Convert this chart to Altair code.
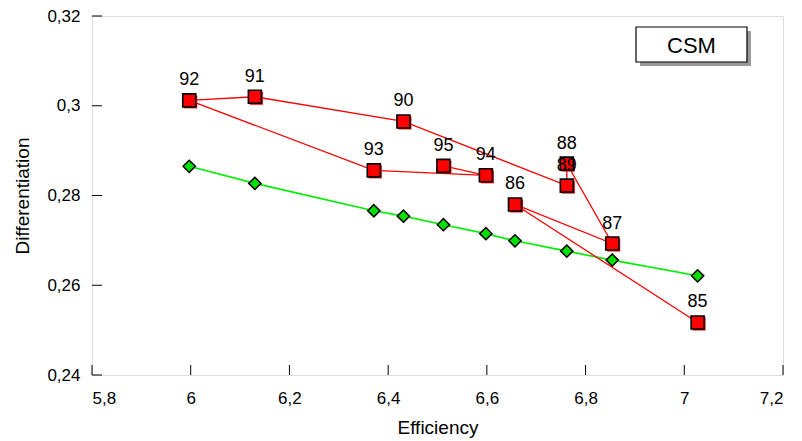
import altair as alt
import pandas as pd

# Data
years = ["85", "86", "87", "88", "89", "90", "91", "92", "93", "94", "95"]
eff = [7.027, 6.657, 6.854, 6.762, 6.762, 6.431, 6.130, 5.997, 6.371, 6.598, 6.512]
diff = [0.2517, 0.2780, 0.2693, 0.2871, 0.2822, 0.2965, 0.3020, 0.3012, 0.2856, 0.2845, 0.2866]

fit_x = [5.997, 6.130, 6.371, 6.431, 6.512, 6.598, 6.657, 6.762, 6.854, 7.027]
fit_y = [0.2865, 0.2827, 0.2766, 0.2754, 0.2735, 0.2715, 0.2699, 0.2676, 0.2656, 0.2621]

x_ticks = [5.8, 6.0, 6.2, 6.4, 6.6, 6.8, 7.0, 7.2]
y_ticks = [0.24, 0.26, 0.28, 0.30, 0.32]

legend_label = ["CSM"]

W, H = 691, 359
FONT = "Liberation Sans"

red = pd.DataFrame({"year": years, "eff": eff, "diff": diff, "ord": list(range(len(years)))})
fit = pd.DataFrame({"eff": fit_x, "diff": fit_y})
xt = pd.DataFrame({"v": x_ticks})
yt = pd.DataFrame({"v": y_ticks})
lg = pd.DataFrame({"t": legend_label})

xs = alt.Scale(domain=[5.8, 7.2], nice=False, zero=False)
ys = alt.Scale(domain=[0.24, 0.32], nice=False, zero=False)

xenc = alt.X("eff:Q", scale=xs, axis=alt.Axis(
    title="Efficiency", values=x_ticks, tickSize=0, domain=False, grid=False,
    labelExpr="replace(format(datum.value, '~g'), '.', ',')",
    labelPadding=15, labelFontSize=17, labelFont=FONT, labelColor="black",
    titleFontSize=19, titleFont=FONT, titleFontWeight="normal", titlePadding=12, titleColor="black"))
yenc = alt.Y("diff:Q", scale=ys, axis=alt.Axis(
    title="Differentiation", values=y_ticks, tickSize=0, domain=False, grid=False,
    labelExpr="replace(format(datum.value, '~g'), '.', ',')",
    labelPadding=12, labelFontSize=17, labelFont=FONT, labelColor="black",
    titleFontSize=19, titleFont=FONT, titleFontWeight="normal", titlePadding=14, titleColor="black"))

xplain = alt.X("eff:Q", scale=xs)
yplain = alt.Y("diff:Q", scale=ys)

green_line = alt.Chart(fit).mark_line(color="#00ee00", strokeWidth=1.6).encode(x=xenc, y=yenc)
green_pts = alt.Chart(fit).mark_point(shape="diamond", filled=True, fill="#00e000",
                                      stroke="black", strokeWidth=1.5, size=150, opacity=1).encode(x=xplain, y=yplain)

red_line = alt.Chart(red).mark_line(color="#ff0000", strokeWidth=1.3).encode(
    x=xplain, y=yplain, order="ord:Q")
red_shadow = alt.Chart(red).mark_point(shape="square", filled=True, color="#ff0000", size=169,
                                       xOffset=1.5, yOffset=1.5, opacity=1).encode(x=xplain, y=yplain)
red_pts = alt.Chart(red).mark_point(shape="square", filled=True, fill="#ff0000", stroke="black",
                                    strokeWidth=1.6, size=169, opacity=1).encode(x=xplain, y=yplain)
red_txt = alt.Chart(red).mark_text(dy=-20, fontSize=18, font=FONT, color="black").encode(
    x=xplain, y=yplain, text="year:N")

xtick_rules = alt.Chart(xt).mark_rule(color="black", strokeWidth=1).encode(
    x=alt.X("v:Q", scale=xs), y=alt.value(H), y2=alt.value(H - 10))
ytick_rules = alt.Chart(yt).mark_rule(color="black", strokeWidth=1).encode(
    y=alt.Y("v:Q", scale=ys), x=alt.value(0), x2=alt.value(10))

lg_shadow = alt.Chart(lg).mark_rect(fill="#999999").encode(
    x=alt.value(548), x2=alt.value(659), y=alt.value(15), y2=alt.value(50))
lg_box = alt.Chart(lg).mark_rect(fill="white", stroke="black", strokeWidth=1.2).encode(
    x=alt.value(544), x2=alt.value(655), y=alt.value(11), y2=alt.value(46))
lg_txt = alt.Chart(lg).mark_text(fontSize=22, font=FONT, color="black", baseline="middle").encode(
    x=alt.value(599.5), y=alt.value(29.5), text="t:N")

chart = alt.layer(
    green_line, green_pts, red_line, red_shadow, red_pts, red_txt,
    xtick_rules, ytick_rules, lg_shadow, lg_box, lg_txt
).properties(
    width=W, height=H,
    autosize=alt.AutoSizeParams(type="none"),
    padding={"left": 92, "top": 16, "right": 19, "bottom": 66},
).configure_view(stroke="black", strokeWidth=1.2).configure(background="white")

chart.save("out.html", embed_options={"renderer": "svg", "actions": False})
